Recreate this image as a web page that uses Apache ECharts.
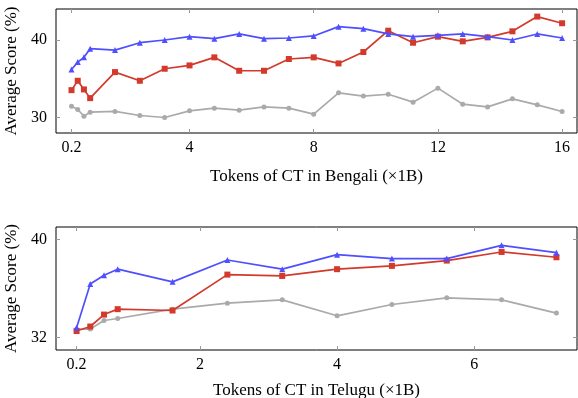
<!DOCTYPE html>
<html>
<head>
<meta charset="utf-8">
<script src="https://cdn.jsdelivr.net/npm/echarts@6/dist/echarts.min.js"></script>
<style>
  html, body { margin: 0; padding: 0; background: #fff; }
  #main { width: 578px; height: 398px; }
</style>
</head>
<body>
<div id="main"></div>
<script>
// Bengali (top panel)
const bnTokens = [0.2, 0.4, 0.6, 0.8, 1.6, 2.4, 3.2, 4.0, 4.8, 5.6, 6.4, 7.2, 8.0, 8.8, 9.6, 10.4, 11.2, 12.0, 12.8, 13.6, 14.4, 15.2, 16.0];
const bnBlue = [36.2, 37.15, 37.76, 38.88, 38.7, 39.65, 40.0, 40.43, 40.17, 40.78, 40.17, 40.26, 40.52, 41.72, 41.46, 40.78, 40.43, 40.6, 40.78, 40.43, 40.0, 40.78, 40.26];
const bnRed = [33.53, 34.74, 33.62, 32.5, 35.86, 34.74, 36.29, 36.72, 37.76, 36.03, 36.03, 37.55, 37.76, 36.98, 38.45, 41.2, 39.65, 40.43, 39.83, 40.34, 41.12, 43.02, 42.16];
const bnGray = [31.46, 31.03, 30.17, 30.69, 30.78, 30.26, 30.0, 30.86, 31.2, 30.94, 31.37, 31.2, 30.43, 33.18, 32.76, 33.0, 31.98, 33.79, 31.72, 31.37, 32.41, 31.63, 30.78];
const bnXTicks = [0.2, 4, 8, 12, 16];
const bnYTicks = [30, 40];

// Telugu (bottom panel)
const teTokens = [0.2, 0.4, 0.6, 0.8, 1.6, 2.4, 3.2, 4.0, 4.8, 5.6, 6.4, 7.2];
const teBlue = [32.81, 36.37, 37.08, 37.57, 36.54, 38.32, 37.57, 38.75, 38.43, 38.43, 39.51, 38.91];
const teRed = [32.54, 32.91, 33.88, 34.32, 34.21, 37.13, 37.02, 37.57, 37.84, 38.27, 38.97, 38.54];
const teGray = [32.7, 32.7, 33.4, 33.56, 34.32, 34.81, 35.08, 33.78, 34.7, 35.24, 35.08, 34.0];
const teXTicks = [0.2, 2, 4, 6];
const teYTicks = [32, 40];

const FONT = "Liberation Serif";
const BLUE = "#4f4fff";
const RED = "#d33a2c";
const GRAY = "#aaaaaa";

const chart = echarts.init(document.getElementById("main"), null, { renderer: "canvas" });

const pairs = (xs, ys) => xs.map((x, i) => [x, ys[i]]);

function xAx(gi, min, max, ticks, name, mirror, gap) {
  return {
    type: "value", gridIndex: gi, min: min, max: max,
    position: mirror ? "top" : "bottom",
    name: mirror ? "" : name, nameLocation: "middle", nameGap: gap || 35,
    nameTextStyle: { fontFamily: FONT, fontSize: 17, color: "#000" },
    axisLine: { show: false, onZero: false },
    axisTick: { show: true, inside: true, length: 4, customValues: ticks, lineStyle: { color: "#999", width: 1 } },
    axisLabel: { show: !mirror, customValues: ticks, fontFamily: FONT, fontSize: 16, color: "#000", margin: 7 },
    splitLine: { show: false }
  };
}

function yAx(gi, min, max, ticks, mirror) {
  return {
    type: "value", gridIndex: gi, min: min, max: max,
    position: mirror ? "right" : "left",
    name: mirror ? "" : "Average Score (%)", nameLocation: "middle", nameGap: 36,
    nameTextStyle: { fontFamily: FONT, fontSize: 17, color: "#000" },
    axisLine: { show: false, onZero: false },
    axisTick: { show: true, inside: true, length: 4, customValues: ticks, lineStyle: { color: "#999", width: 1 } },
    axisLabel: { show: !mirror, customValues: ticks, fontFamily: FONT, fontSize: 16, color: "#000", margin: 9 },
    splitLine: { show: false }
  };
}

function line(xi, yi, data, color, symbol, size) {
  return {
    type: "line", xAxisIndex: xi, yAxisIndex: yi, data: data,
    symbol: symbol, symbolSize: size, showSymbol: true,
    lineStyle: { color: color, width: 1.7 },
    itemStyle: { color: color, borderWidth: 0 },
    animation: false, z: color === GRAY ? 2 : (color === RED ? 3 : 4)
  };
}

const option = {
  backgroundColor: "#fff",
  animation: false,
  grid: [
    { left: 56, right: 1, top: 9, height: 124, outerBoundsMode: "none", containLabel: false, show: true, borderColor: "#000", borderWidth: 1, backgroundColor: "transparent" },
    { left: 56, right: 1, top: 227, height: 123, outerBoundsMode: "none", containLabel: false, show: true, borderColor: "#000", borderWidth: 1, backgroundColor: "transparent" }
  ],
  xAxis: [
    xAx(0, -0.3, 16.48, bnXTicks, "Tokens of CT in Bengali (×1B)", false, 35),
    xAx(0, -0.3, 16.48, bnXTicks, "", true),
    xAx(1, -0.1, 7.5, teXTicks, "Tokens of CT in Telugu (×1B)", false, 32),
    xAx(1, -0.1, 7.5, teXTicks, "", true)
  ],
  yAxis: [
    yAx(0, 28, 44, bnYTicks, false),
    yAx(0, 28, 44, bnYTicks, true),
    yAx(1, 31, 41, teYTicks, false),
    yAx(1, 31, 41, teYTicks, true)
  ],
  series: [
    line(0, 0, pairs(bnTokens, bnGray), GRAY, "circle", 5),
    line(0, 0, pairs(bnTokens, bnRed), RED, "rect", 6),
    line(0, 0, pairs(bnTokens, bnBlue), BLUE, "triangle", 6),
    line(2, 2, pairs(teTokens, teGray), GRAY, "circle", 5),
    line(2, 2, pairs(teTokens, teRed), RED, "rect", 6),
    line(2, 2, pairs(teTokens, teBlue), BLUE, "triangle", 6)
  ]
};

chart.setOption(option);
</script>
</body>
</html>
